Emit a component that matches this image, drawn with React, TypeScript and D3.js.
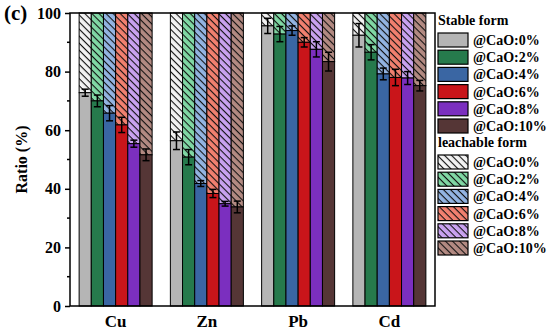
import * as d3 from "d3";
import { FC, useEffect, useRef } from "react";

const METALS: string[] = ["Cu", "Zn", "Pb", "Cd"];
const DOSES: string[] = ["0%", "2%", "4%", "6%", "8%", "10%"];
// stable form (%), per metal, per CaO dose
const STABLE: number[][] = [
  [72.8, 70, 65.8, 61.8, 55.4, 51.6],
  [56.4, 50.8, 41.8, 38.4, 34.9, 33.8],
  [95.6, 92.8, 94, 90, 87.6, 83.4],
  [92.4, 86.6, 79.2, 78, 77.8, 75.2],
];
const STABLE_ERR: number[][] = [
  [1.2, 2, 2.6, 2.6, 1.2, 2],
  [3, 2.6, 1, 1.4, 0.8, 2],
  [2.6, 2.6, 1.6, 1.6, 2.6, 3.2],
  [4, 2.6, 2, 2.8, 2.2, 1.8],
];
const Y_TICKS: number[] = [0, 20, 40, 60, 80, 100];
const SOLID_COLORS = ["#b5b5b5", "#267a4c", "#3a66a3", "#c9151a", "#7b2fbf", "#553636"];
const HATCH_COLORS = ["#f2f2f2", "#80d8a4", "#93b4e2", "#f2806f", "#c9a2f0", "#b38a82"];

const FONT = "'Liberation Serif', 'Times New Roman', 'DejaVu Serif', serif";

const App: FC = () => {
  const ref = useRef<SVGSVGElement | null>(null);

  useEffect(() => {
    if (!ref.current) return;
    const svg = d3.select(ref.current);
    svg.selectAll("*").remove();

    const left = 70, right = 435, top = 13, bottom = 306;

    const x = d3.scaleBand().domain(METALS).range([left, right]).paddingInner(0.2).paddingOuter(0.1);
    const xi = d3.scaleBand().domain(DOSES).range([0, x.bandwidth()]);
    const y = d3.scaleLinear().domain([0, 100]).range([bottom, top]);

    const defs = svg.append("defs");
    HATCH_COLORS.forEach((c, i) => {
      const p = defs
        .append("pattern")
        .attr("id", `hatch${i}`)
        .attr("patternUnits", "userSpaceOnUse")
        .attr("width", 5)
        .attr("height", 5)
        .attr("patternTransform", "rotate(45)");
      p.append("rect").attr("width", 5).attr("height", 5).attr("fill", c);
      p.append("line")
        .attr("x1", 0).attr("y1", 0).attr("x2", 5).attr("y2", 0)
        .attr("stroke", "#111").attr("stroke-width", 2.2);
    });

    const groups = svg
      .selectAll("g.metal")
      .data(METALS)
      .enter()
      .append("g")
      .attr("transform", (d) => `translate(${x(d)},0)`);

    groups.each(function (m, mi) {
      const g = d3.select(this);
      DOSES.forEach((dose, di) => {
        const v = STABLE[mi][di];
        const bx = xi(dose) as number;
        const bw = xi.bandwidth();
        // leachable part stacked up to 100
        g.append("rect")
          .attr("x", bx).attr("y", y(100))
          .attr("width", bw).attr("height", y(v) - y(100))
          .attr("fill", `url(#hatch${di})`)
          .attr("stroke", "#000").attr("stroke-width", 1);
        g.append("rect")
          .attr("x", bx).attr("y", y(v))
          .attr("width", bw).attr("height", y(0) - y(v))
          .attr("fill", SOLID_COLORS[di])
          .attr("stroke", "#000").attr("stroke-width", 1);
        const e = STABLE_ERR[mi][di];
        const cx = bx + bw / 2;
        const eb = g.append("g").attr("stroke", "#000").attr("stroke-width", 1.5);
        eb.append("line").attr("x1", cx).attr("x2", cx).attr("y1", y(v - e)).attr("y2", y(v + e));
        eb.append("line").attr("x1", cx - 3.5).attr("x2", cx + 3.5).attr("y1", y(v - e)).attr("y2", y(v - e));
        eb.append("line").attr("x1", cx - 3.5).attr("x2", cx + 3.5).attr("y1", y(v + e)).attr("y2", y(v + e));
      });
    });

    // frame
    svg.append("rect")
      .attr("x", left).attr("y", top)
      .attr("width", right - left).attr("height", bottom - top)
      .attr("fill", "none").attr("stroke", "#000").attr("stroke-width", 1.5);

    const yAxis = svg
      .append("g")
      .attr("transform", `translate(${left},0)`)
      .call(d3.axisLeft(y).tickValues(Y_TICKS).tickSize(5).tickPadding(4));
    yAxis.attr("font-family", null).attr("font-size", null);
    yAxis.select(".domain").remove();
    yAxis.selectAll("line").attr("stroke-width", 1.5);
    yAxis.selectAll("text")
      .style("font-family", FONT).style("font-weight", "bold").style("font-size", "16px").attr("fill", "#000");
    svg.append("g")
      .selectAll("line")
      .data(d3.range(10, 100, 20))
      .enter()
      .append("line")
      .attr("x1", left - 3).attr("x2", left)
      .attr("y1", (d) => y(d)).attr("y2", (d) => y(d))
      .attr("stroke", "#000").attr("stroke-width", 1.5);

    const xAxis = svg
      .append("g")
      .attr("transform", `translate(0,${bottom})`)
      .call(d3.axisBottom(x).tickSize(0).tickPadding(9));
    xAxis.attr("font-family", null).attr("font-size", null);
    xAxis.select(".domain").remove();
    xAxis.selectAll("text")
      .style("font-family", FONT).style("font-weight", "bold").style("font-size", "17px").attr("fill", "#000");

    svg.append("text")
      .attr("transform", `translate(27,${(top + bottom) / 2}) rotate(-90)`)
      .attr("text-anchor", "middle")
      .style("font-family", FONT).style("font-weight", "bold").style("font-size", "16px")
      .text("Ratio (%)");

    svg.append("text")
      .attr("x", 4).attr("y", 20)
      .style("font-family", FONT).style("font-weight", "bold").style("font-size", "21px")
      .text("(c)");

    // legend
    const lg = svg.append("g")
      .style("font-family", FONT).style("font-weight", "bold").style("font-size", "14px");
    const sw = 30, sh = 14, lx = 438, step = 17.2;
    const section = (title: string, ty: number, fills: (i: number) => string) => {
      lg.append("text").attr("x", lx).attr("y", ty).text(title);
      DOSES.forEach((dose, i) => {
        const cy = ty + 15 + i * step;
        lg.append("rect")
          .attr("x", lx).attr("y", cy - sh / 2)
          .attr("width", sw).attr("height", sh)
          .attr("fill", fills(i)).attr("stroke", "#000").attr("stroke-width", 1.2);
        lg.append("text").attr("x", lx + sw + 5).attr("y", cy + 5).text(`@CaO:${dose}`);
      });
    };
    section("Stable form", 25, (i) => SOLID_COLORS[i]);
    section("leachable form", 147, (i) => `url(#hatch${i})`);
  }, []);

  return <svg ref={ref} width={550} height={334} style={{ position: "absolute", left: 0, top: 0 }} />;
};

export default App;
